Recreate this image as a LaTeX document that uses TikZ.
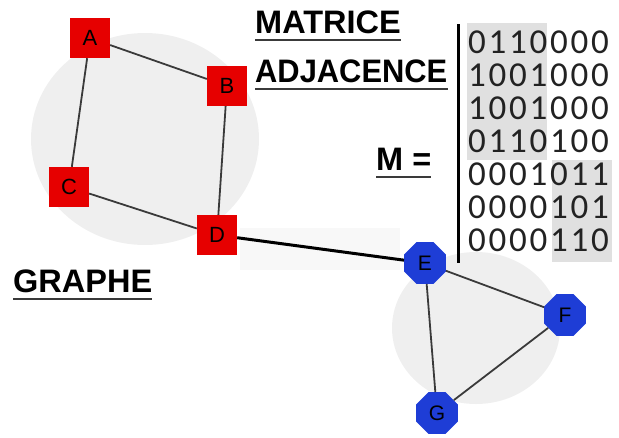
\documentclass[tikz,border=0pt]{standalone}
\usepackage{fontspec}
\setmainfont{Liberation Sans}
\newfontfamily\digitfont{Carlito}
\usetikzlibrary{shapes.geometric}
\definecolor{nodered}{HTML}{E60000}
\definecolor{nodeblue}{HTML}{1E3DD6}
\definecolor{halo}{HTML}{EFEFEF}
\definecolor{ghost}{HTML}{F8F8F8}
\definecolor{shadebox}{HTML}{E0E0E0}
\definecolor{edgecol}{HTML}{3A3A3A}
\definecolor{digitcol}{HTML}{222222}
\begin{document}
\begin{tikzpicture}[x=1pt,y=-1pt,
  sq/.style={rectangle, fill=nodered, minimum size=40pt, inner sep=0pt, font=\fontsize{22}{22}\selectfont},
  oct/.style={regular polygon, regular polygon sides=8, fill=nodeblue, minimum size=45pt, inner sep=0pt, font=\fontsize{21}{21}\selectfont},
  edge/.style={draw=edgecol, line width=1.8pt},
  heading/.style={font=\bfseries\fontsize{32.5}{32.5}\selectfont, inner sep=0pt, anchor=base west},
  ul/.style={draw=edgecol, line width=2pt},
  digit/.style={font=\digitfont\fontsize{35}{35}\selectfont, text=digitcol, inner sep=0pt}]
\useasboundingbox (0,0) rectangle (619,437);
% background halos
\fill[halo] (145,139) ellipse [x radius=114pt, y radius=106pt];
\fill[halo] (476,328) ellipse [x radius=84pt, y radius=76pt];
\fill[ghost] (240,228) rectangle (400,270);
% matrix shading and bar
\fill[shadebox] (467,23) rectangle (547,160);
\fill[shadebox] (552,160) rectangle (612,262);
\draw[line width=3pt] (458,24) -- (458,263);
\foreach \row [count=\r] in {{0,1,1,0,0,0,0},{1,0,0,1,0,0,0},{1,0,0,1,0,0,0},{0,1,1,0,1,0,0},{0,0,0,1,0,1,1},{0,0,0,0,1,0,1},{0,0,0,0,1,1,0}}{
  \foreach \d [count=\c] in \row {
    \node[digit] (m-\r-\c) at ({456.5+20.5*\c},{9+33*\r}) {\d};
  }
}
% graph nodes
\node[sq] (A) at (90,38) {A};
\node[sq] (B) at (227,86) {B};
\node[sq] (C) at (69,187) {C};
\node[sq] (D) at (217,235) {D};
\node[oct] (E) at (425,263) {E};
\node[oct] (F) at (565,315) {F};
\node[oct] (G) at (437,413) {G};
% edges
\draw[edge] (A) -- (B);
\draw[edge] (A) -- (C);
\draw[edge] (B) -- (D);
\draw[edge] (C) -- (D);
\draw[draw=black, line width=3pt] (D) -- (E);
\draw[edge] (E) -- (F);
\draw[edge] (E) -- (G);
\draw[edge] (F) -- (G);
% headings
\node[heading] (t1) at (255,33) {MATRICE};
\node[heading] (t2) at (255,82) {\scalebox{0.95}[1]{ADJACENCE}};
\node[heading] (t3) at (376,170) {M =};
\node[heading] (t4) at (13,292) {GRAPHE};
\draw[ul] ([yshift=-7pt]t1.base west) -- ([yshift=-7pt]t1.base east);
\draw[ul] ([yshift=-7pt]t2.base west) -- ([yshift=-7pt]t2.base east);
\draw[ul] ([yshift=-7pt]t3.base west) -- ([yshift=-7pt]t3.base east);
\draw[ul] ([yshift=-7pt]t4.base west) -- ([yshift=-7pt]t4.base east);
\end{tikzpicture}
\end{document}
